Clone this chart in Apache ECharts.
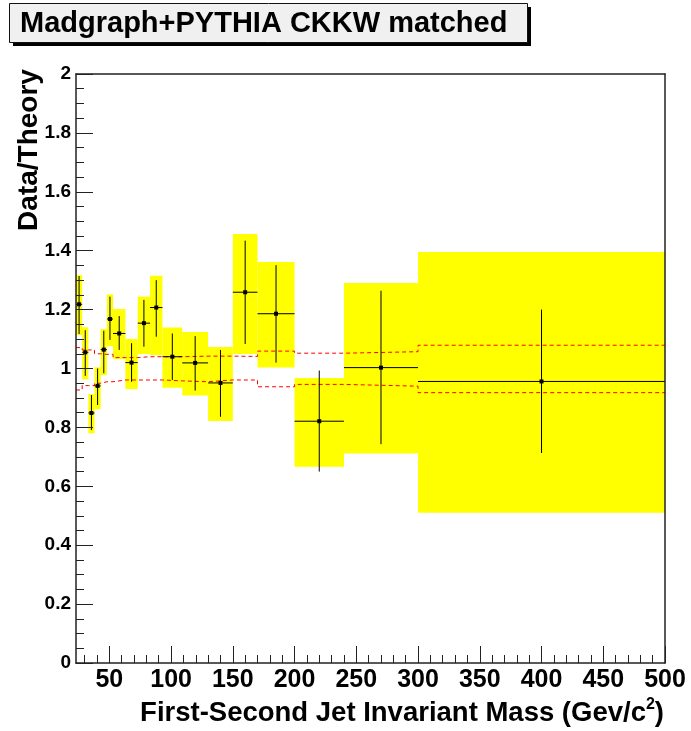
<!DOCTYPE html>
<html>
<head>
<meta charset="utf-8">
<script src="https://cdn.jsdelivr.net/npm/echarts@6/dist/echarts.min.js"></script>
<style>
html,body{margin:0;padding:0;background:#fff;}
#chart{width:691px;height:731px;}
</style>
</head>
<body>
<div id="chart"></div>
<script>
// ---- data ----
const binEdges = [23, 28, 33, 38, 43, 48, 53, 63, 73, 83, 93, 109, 130, 150, 170, 200, 240, 300, 500];
const binCenters = [25.5, 30.5, 35.5, 40.5, 45.5, 50.5, 58, 68, 78, 88, 101, 119.5, 140, 160, 185, 220, 270, 400];
const ratio    = [1.218, 1.055, 0.849, 0.941, 1.064, 1.168, 1.119, 1.020, 1.154, 1.207, 1.040, 1.019, 0.951, 1.259, 1.186, 0.821, 1.003, 0.956];
const statHigh = [1.314, 1.130, 0.910, 1.000, 1.128, 1.244, 1.178, 1.086, 1.233, 1.300, 1.119, 1.110, 1.063, 1.434, 1.351, 0.993, 1.264, 1.200];
const statLow  = [1.117, 0.975, 0.791, 0.876, 0.984, 1.097, 1.063, 0.955, 1.074, 1.108, 0.961, 0.925, 0.836, 1.083, 1.020, 0.650, 0.743, 0.713];
const bandHigh = [1.317, 1.140, 0.913, 1.004, 1.134, 1.252, 1.202, 1.100, 1.244, 1.315, 1.139, 1.124, 1.073, 1.457, 1.362, 0.968, 1.290, 1.396];
const bandLow  = [1.114, 0.963, 0.780, 0.862, 0.978, 1.076, 1.032, 0.930, 1.049, 1.045, 0.935, 0.908, 0.822, 1.049, 1.003, 0.666, 0.711, 0.510];
const theoryUp   = [1.071, 1.063, 1.063, 1.050, 1.048, 1.048, 1.037, 1.037, 1.040, 1.040, 1.040, 1.042, 1.042, 1.041, 1.059, 1.052, 1.057, 1.079];
const theoryDown = [0.927, 0.942, 0.942, 0.950, 0.955, 0.955, 0.961, 0.961, 0.961, 0.961, 0.958, 0.955, 0.961, 0.961, 0.938, 0.946, 0.940, 0.918];
const xMajorTicks = [50, 100, 150, 200, 250, 300, 350, 400, 450, 500];
const xMinorTicks = [];
for (let v = 30; v < 500; v += 10) if (v % 50 !== 0) xMinorTicks.push(v);
const titleText = 'Madgraph+PYTHIA CKKW matched';
const yTitle = 'Data/Theory';

// ---- derived tables ----
const bandData = binCenters.map((c, i) => [binEdges[i], binEdges[i + 1], bandLow[i], bandHigh[i]]);
const pointData = binCenters.map((c, i) => [binEdges[i], binEdges[i + 1], c, ratio[i], statLow[i], statHigh[i]]);
function stepData(vals) {
  const out = [];
  vals.forEach((v, i) => { out.push([binEdges[i], v]); out.push([binEdges[i + 1], v]); });
  return out;
}

const FONT = '"Liberation Sans", Arial, Helvetica, sans-serif';
const AX = '#222';
const chart = echarts.init(document.getElementById('chart'), null, {renderer: 'canvas'});

const option = {
  animation: false,
  backgroundColor: '#ffffff',
  grid: {left: 76, top: 74, width: 589, height: 589, containLabel: false},
  xAxis: [
    {
      type: 'value', min: 23, max: 500, position: 'bottom', z: 10,
      axisLine: {show: true, onZero: false, lineStyle: {color: AX, width: 1.5}},
      axisTick: {show: true, inside: true, length: 17, customValues: xMajorTicks, lineStyle: {color: AX, width: 1}},
      axisLabel: {show: true, customValues: xMajorTicks, margin: 5, color: '#000', fontFamily: FONT, fontWeight: 'bold', fontSize: 25},
      splitLine: {show: false}
    },
    {
      type: 'value', min: 23, max: 500, position: 'bottom', z: 10,
      axisLine: {show: false},
      axisTick: {show: true, inside: true, length: 8, customValues: xMinorTicks, lineStyle: {color: AX, width: 1}},
      axisLabel: {show: false},
      splitLine: {show: false}
    },
    {
      type: 'value', min: 23, max: 500, position: 'top', z: 10,
      axisLine: {show: true, onZero: false, lineStyle: {color: AX, width: 1.5}},
      axisTick: {show: false}, axisLabel: {show: false}, splitLine: {show: false}
    }
  ],
  yAxis: [
    {
      type: 'value', min: 0, max: 2, interval: 0.2, position: 'left', z: 10,
      axisLine: {show: true, onZero: false, lineStyle: {color: AX, width: 1.5}},
      axisTick: {show: true, inside: true, length: 17, lineStyle: {color: AX, width: 1}},
      minorTick: {show: true, splitNumber: 4, length: 8, lineStyle: {color: AX, width: 1}},
      axisLabel: {margin: 5, color: '#000', fontFamily: FONT, fontWeight: 'bold', fontSize: 19},
      splitLine: {show: false}, minorSplitLine: {show: false}
    },
    {
      type: 'value', min: 0, max: 2, position: 'right', z: 10,
      axisLine: {show: true, onZero: false, lineStyle: {color: AX, width: 1.5}},
      axisTick: {show: false}, axisLabel: {show: false}, splitLine: {show: false}
    }
  ],
  graphic: [
    {type: 'rect', left: 13, top: 7, z: 1, shape: {width: 518, height: 39}, style: {fill: '#000'}},
    {type: 'rect', left: 9, top: 3, z: 2, shape: {width: 518, height: 39}, style: {fill: '#f0f0f0', stroke: '#111', lineWidth: 1}},
    {type: 'text', x: 20, y: 24, z: 3, style: {text: titleText, font: 'bold 29px ' + FONT, fill: '#000', textAlign: 'left', textVerticalAlign: 'middle'}},
    {type: 'text', x: 29, y: 150, rotation: Math.PI / 2, z: 3, style: {text: yTitle, font: 'bold 28px ' + FONT, fill: '#000', textAlign: 'center', textVerticalAlign: 'middle'}},
    {type: 'text', x: 664, y: 712, z: 3, style: {
      text: '{a|First-Second Jet Invariant Mass (Gev/c}{s|2}{a|)}',
      textAlign: 'right', textVerticalAlign: 'middle',
      rich: {
        a: {font: 'bold 27.5px ' + FONT, fill: '#000', lineHeight: 30, verticalAlign: 'bottom'},
        s: {font: 'bold 16px ' + FONT, fill: '#000', lineHeight: 30, verticalAlign: 'top'}
      }
    }}
  ],
  series: [
    {
      type: 'custom', name: 'band', z: 1, xAxisIndex: 0, yAxisIndex: 0,
      data: bandData,
      renderItem: function (params, api) {
        const p0 = api.coord([api.value(0), api.value(3)]);
        const p1 = api.coord([api.value(1), api.value(2)]);
        return {type: 'rect', shape: {x: p0[0], y: p0[1], width: p1[0] - p0[0], height: p1[1] - p0[1]}, style: {fill: '#ffff00'}};
      }
    },
    {
      type: 'line', name: 'theoryUp', z: 3, data: stepData(theoryUp), symbol: 'none', silent: true,
      lineStyle: {color: '#ff0000', width: 1, type: [4, 3]}
    },
    {
      type: 'line', name: 'theoryDown', z: 3, data: stepData(theoryDown), symbol: 'none', silent: true,
      lineStyle: {color: '#ff0000', width: 1, type: [4, 3]}
    },
    {
      type: 'custom', name: 'data', z: 4,
      data: pointData,
      renderItem: function (params, api) {
        const l = api.coord([api.value(0), api.value(3)]);
        const r = api.coord([api.value(1), api.value(3)]);
        const c = api.coord([api.value(2), api.value(3)]);
        const lo = api.coord([api.value(2), api.value(4)]);
        const hi = api.coord([api.value(2), api.value(5)]);
        return {type: 'group', children: [
          {type: 'line', shape: {x1: l[0], y1: c[1], x2: r[0], y2: c[1]}, style: {stroke: '#000', lineWidth: 1}},
          {type: 'line', shape: {x1: c[0], y1: lo[1], x2: c[0], y2: hi[1]}, style: {stroke: '#000', lineWidth: 1}},
          {type: 'rect', shape: {x: c[0] - 2, y: c[1] - 2, width: 4, height: 4}, style: {fill: '#000'}}
        ]};
      }
    }
  ]
};
chart.setOption(option);
</script>
</body>
</html>
